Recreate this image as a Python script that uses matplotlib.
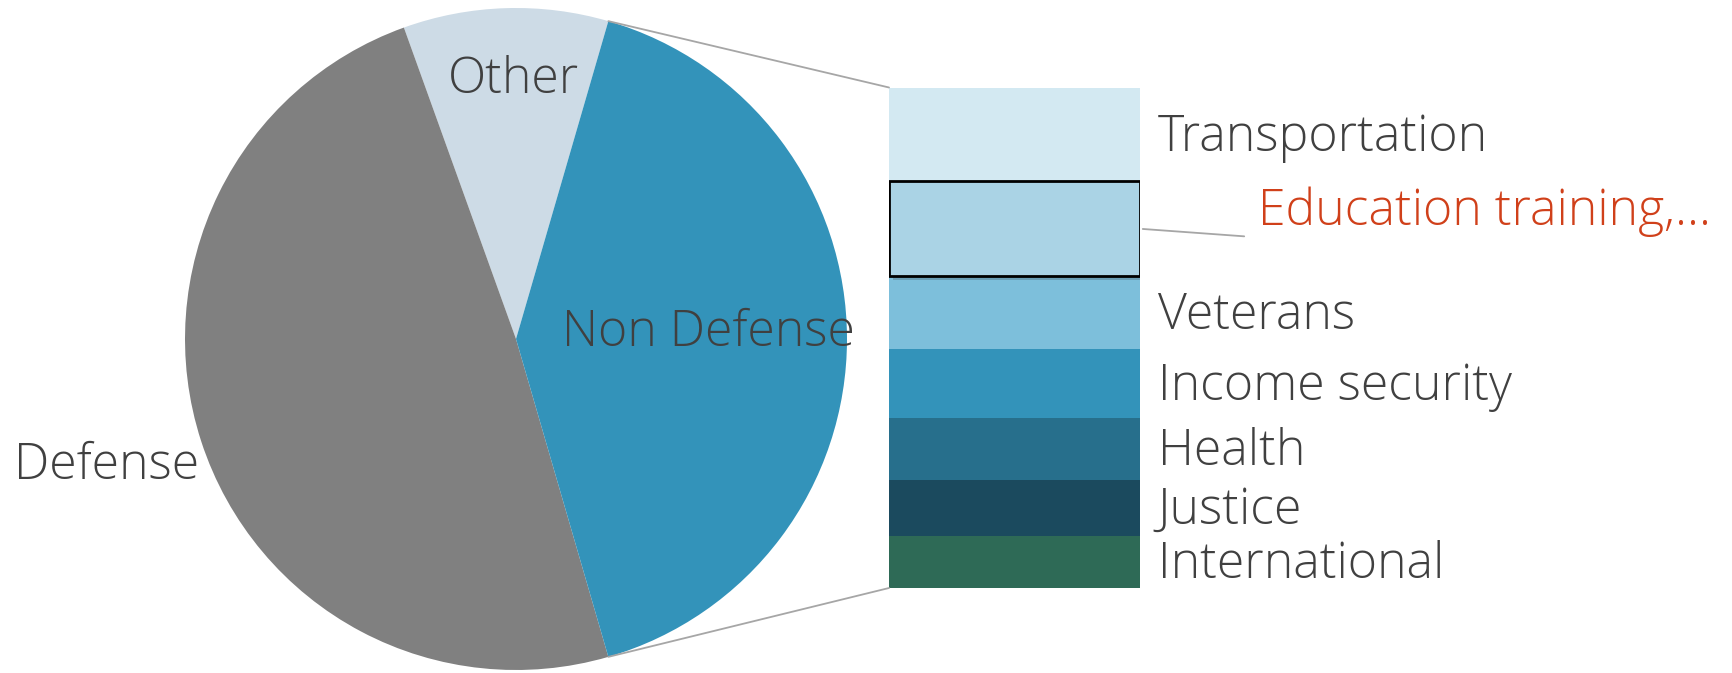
import matplotlib
matplotlib.use("Agg")
import matplotlib.pyplot as plt
import matplotlib.patheffects as pe
import matplotlib.transforms as mtransforms
from matplotlib.patches import ConnectionPatch
import numpy as np

# main pie
pie_labels = ["Other", "Defense", "Non Defense"]
pie_values = [10, 49, 41]
pie_colors = ["#CDDBE6", "#808080", "#3393BA"]
pie_label_dist = [0.80, 1.30, 0.58]
pie_label_nudge = [(4, -4), (0, 4.5), (0, 4)]   # points

# breakdown of Non Defense (top to bottom)
bar_labels = ["Transportation", "Education training,...", "Veterans",
              "Income security", "Health", "Justice", "International"]
bar_values = [7.7, 7.8, 6.0, 5.6, 5.1, 4.6, 4.3]
bar_colors = ["#D3E9F2", "#AAD3E5", "#7DBFDB", "#3393BA",
              "#276F8C", "#1B4A5E", "#2E6A56"]

TEXT = "#404040"
LINE = "#A6A6A6"
FS = 36


def main():
    plt.rcParams['font.family'] = ['Open Sans', 'DejaVu Sans']
    W, H = 1732, 673
    fig = plt.figure(figsize=(W / 100, H / 100), dpi=100)

    # pie
    ax1 = fig.add_axes([185 / W, 1 - 670 / H, 662 / W, 662 / H])
    wedges, _ = ax1.pie(pie_values, colors=pie_colors, startangle=73.8,
                        radius=1, wedgeprops=dict(linewidth=0))
    ax1.set_xlim(-1, 1)
    ax1.set_ylim(-1, 1)
    ax1.set_aspect('equal')
    ax1.axis('off')

    for w, lab, d, nudge in zip(wedges, pie_labels, pie_label_dist, pie_label_nudge):
        ang = np.radians((w.theta1 + w.theta2) / 2)
        ax1.annotate(lab, xy=(d * np.cos(ang), d * np.sin(ang)),
                     xytext=nudge, textcoords='offset points',
                     ha='center', va='center', fontsize=FS, fontweight='light',
                     color=TEXT, annotation_clip=False)

    # stacked bar
    ax2 = fig.add_axes([889 / W, 1 - 588 / H, 251 / W, 500.5 / H])
    bottoms = np.cumsum([0] + bar_values[:-1])
    total = sum(bar_values)
    bars = ax2.bar(0, bar_values, bottom=bottoms, width=1, color=bar_colors,
                   linewidth=0)
    for b in bars:
        b.set_path_effects([pe.SimplePatchShadow(offset=(3, -3), alpha=0.25),
                            pe.Normal()])
    bars[1].set_edgecolor('black')
    bars[1].set_linewidth(2)
    bars[1].set_zorder(3)
    ax2.set_xlim(-0.5, 0.5)
    ax2.set_ylim(total, 0)
    ax2.axis('off')

    trans = mtransforms.blended_transform_factory(ax2.transAxes, ax2.transData)
    trans = mtransforms.offset_copy(trans, fig=fig, y=-2.5, units='points')
    for i, (lab, val, b) in enumerate(zip(bar_labels, bar_values, bottoms)):
        yc = b + val / 2
        if i == 1:
            ax2.annotate(lab, xy=(0.5, yc), xycoords='data',
                         xytext=(85, 12), textcoords='offset points',
                         ha='left', va='center', fontsize=FS, fontweight='light',
                         color='#D0401A',
                         arrowprops=dict(arrowstyle='-', color=LINE, lw=1.3,
                                         relpos=(0, 0.0), shrinkA=8, shrinkB=2))
        else:
            ax2.text(1.07, yc, lab, transform=trans, ha='left', va='center',
                     fontsize=FS, fontweight='light', color=TEXT)

    # connector lines from Non Defense slice to the bar
    nd = wedges[2]
    for theta, yb in [(nd.theta2, 0), (nd.theta1, total)]:
        t = np.radians(theta)
        con = ConnectionPatch(xyA=(-0.5, yb), coordsA=ax2.transData,
                              xyB=(np.cos(t), np.sin(t)), coordsB=ax1.transData,
                              color=LINE, lw=1.3)
        fig.add_artist(con)

    fig.savefig("out.png", dpi=100)


if __name__ == "__main__":
    main()
